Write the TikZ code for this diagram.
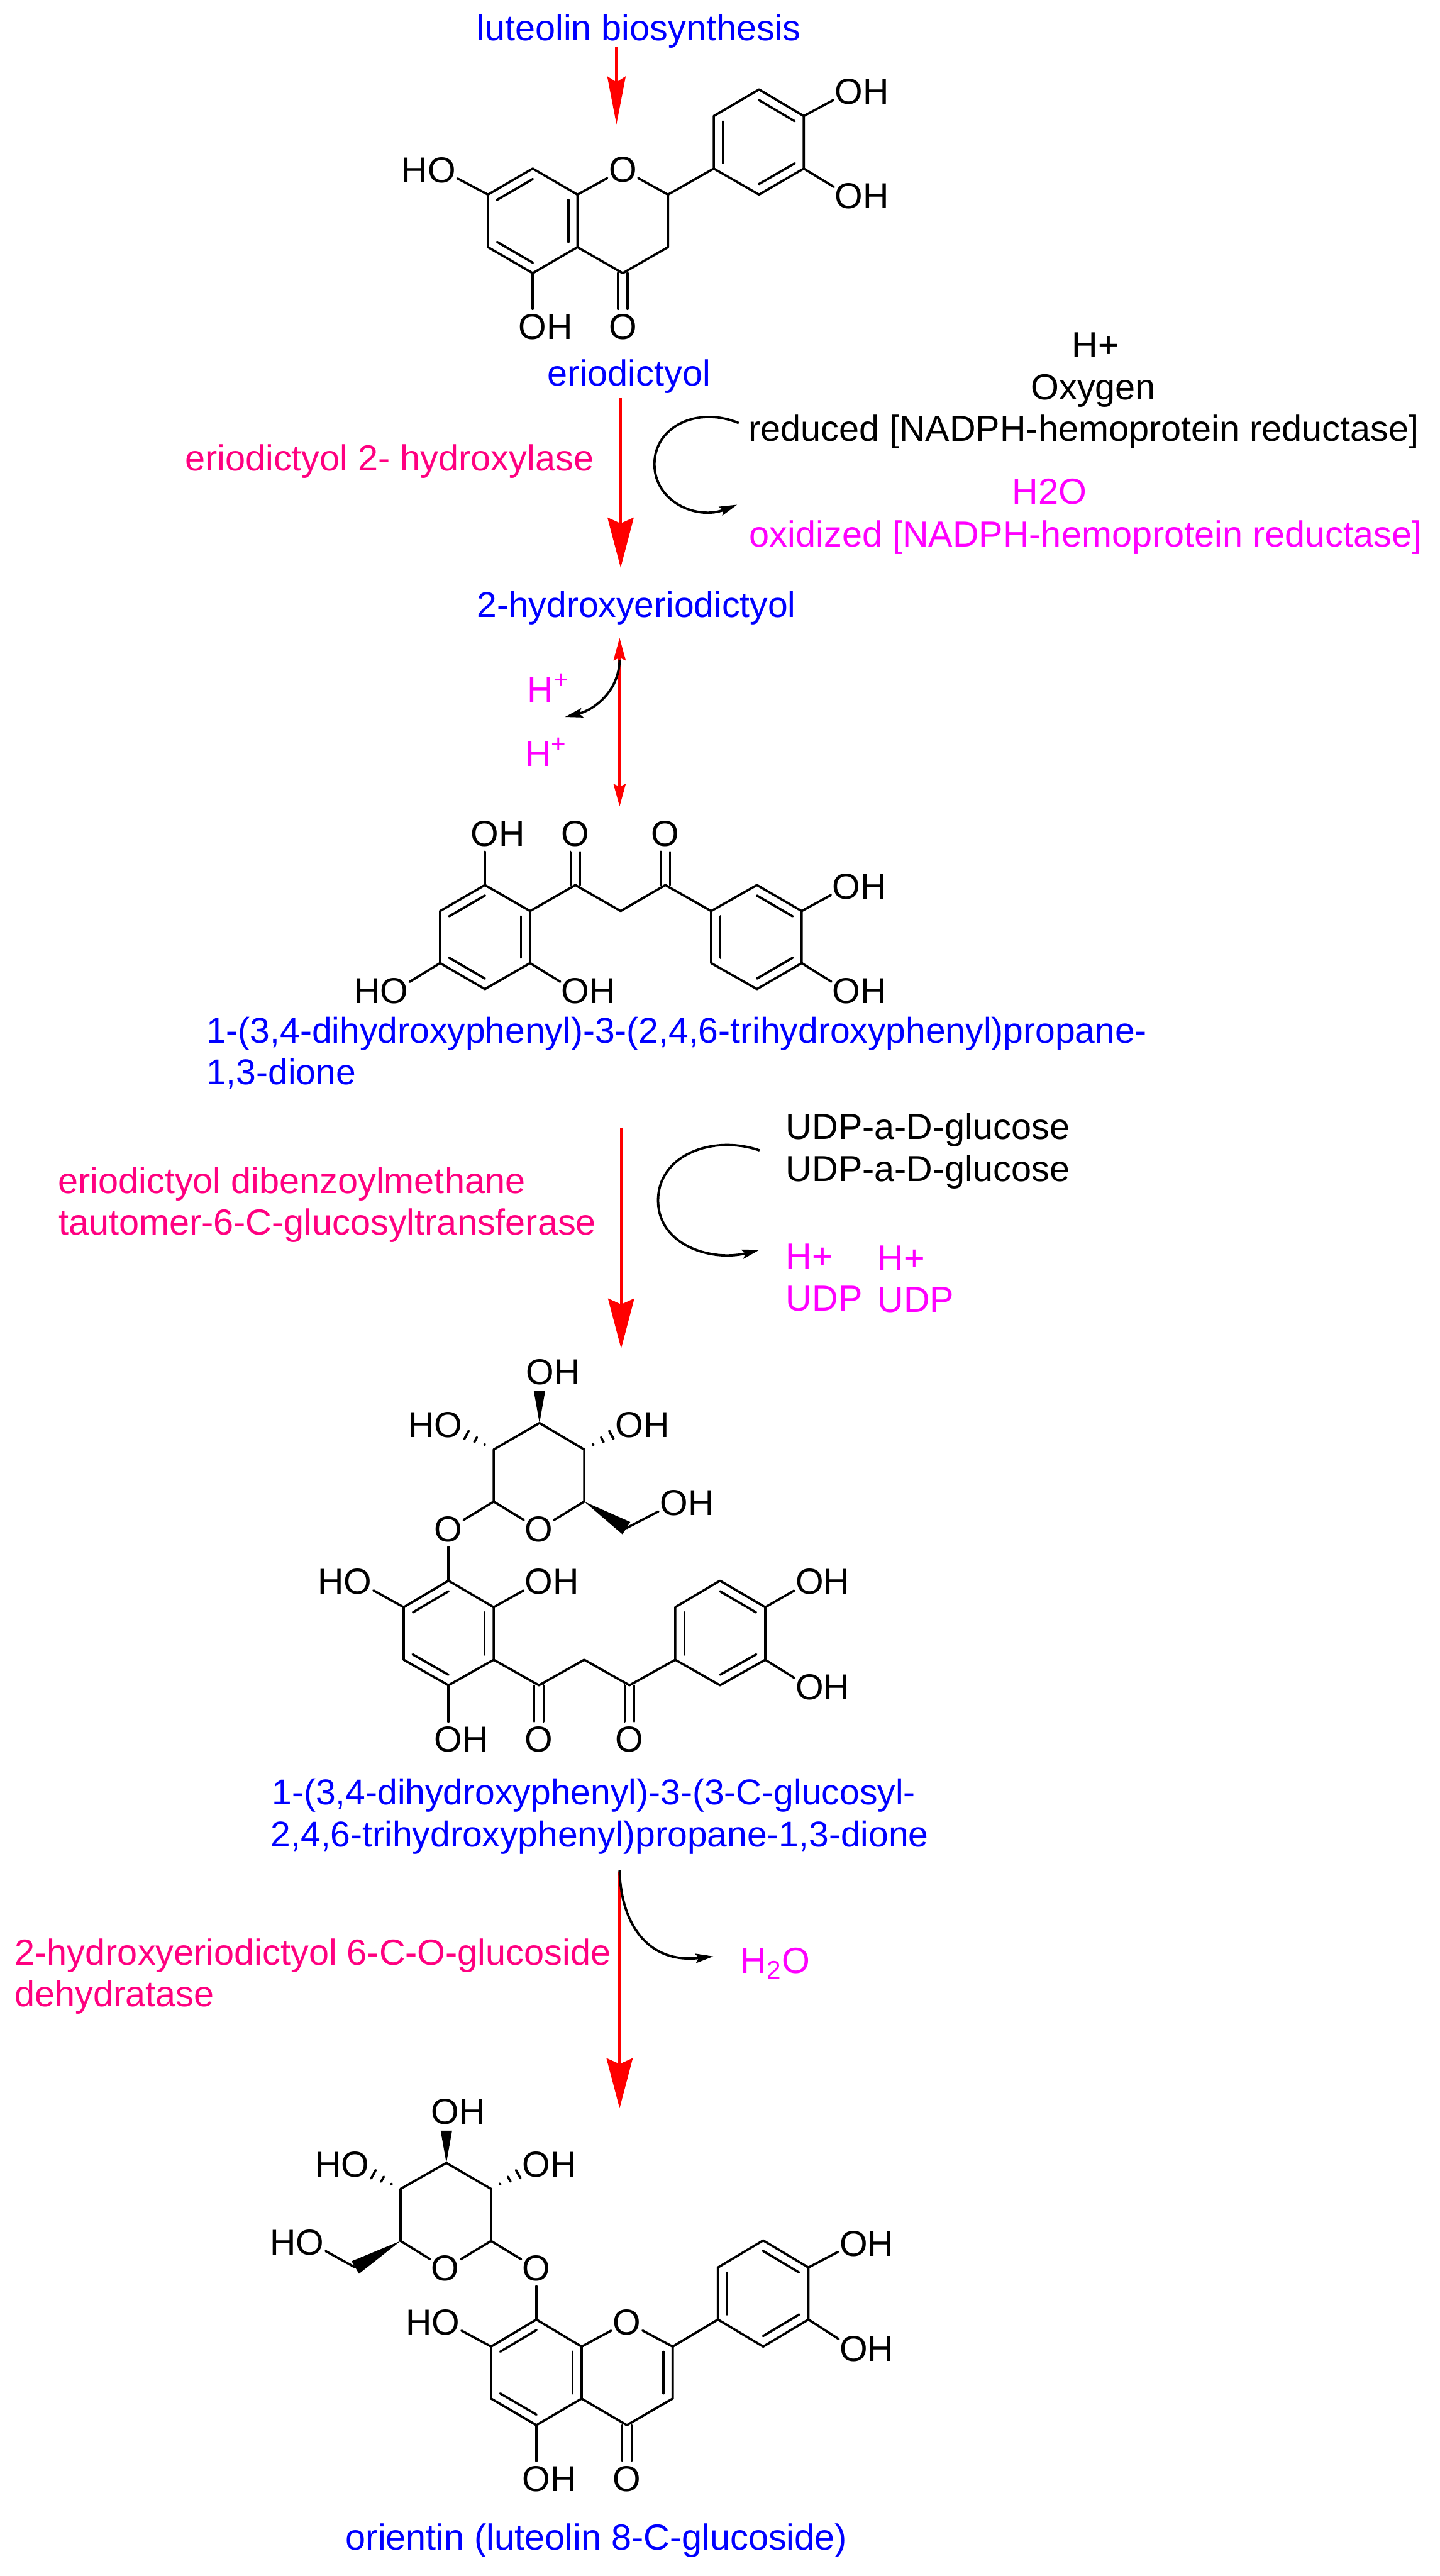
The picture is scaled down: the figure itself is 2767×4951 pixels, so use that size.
\documentclass[tikz,border=0pt]{standalone}
\usepackage{fontspec}
\setmainfont{Liberation Sans}
\usetikzlibrary{calc}
\usetikzlibrary{arrows.meta}
\definecolor{metab}{HTML}{0000FF}
\definecolor{enzyme}{HTML}{FF0080}
\definecolor{product}{HTML}{FF00FF}
\tikzset{
	atom/.style = {circle, inner sep=0pt, outer sep=-0.6pt, minimum size=0.7cm, font=\fontsize{19.7}{24}\selectfont},
	bond/.style = {line width=1.25pt, line cap=round, line join=round},
	txt/.style = {anchor=base west, inner sep=0pt, font=\fontsize{19.8}{24}\selectfont},
	longname/.style = {txt, metab, font=\fontsize{19.6}{24}\selectfont},
	mainrxn/.style = {red, line width=1.5pt, -{Stealth[length=0.96cm,width=0.5cm,inset=0.11cm]}},
	toprxn/.style = {red, line width=1.4pt, -{Stealth[length=0.92cm,width=0.35cm,inset=0.11cm]}},
	eqrxn/.style = {red, line width=1.3pt, {Stealth[length=0.43cm,width=0.23cm,inset=0.05cm]}-{Stealth[length=0.43cm,width=0.23cm,inset=0.05cm]}},
	siderxn/.style = {black, line width=1.3pt, -{Stealth[length=0.34cm,width=0.18cm,inset=0.06cm]}}
}
% O with its H hanging out, so that bonds aim at the O
\newcommand{\OHl}{O\rlap{H}}
\newcommand{\HOl}{\llap{H}O}
% inner line of a double bond, on the left of a -> b
\newcommand{\dbl}[2]{\draw[bond] ($(#1)!.1!(#2)!.175cm!90:(#2)$) -- ($(#2)!.1!(#1)!.175cm!-90:(#1)$);}
% C=O, always vertical
\newcommand{\cdbl}[2]{
	\draw[bond, transform canvas={xshift=-0.09cm}] (#1) -- (#2);
	\draw[bond, transform canvas={xshift=0.09cm}] (#1) -- (#2);
}
\newcommand{\wdg}[3]{\fill (#1) -- ($(#2)!#3!90:(#1)$) -- ($(#2)!#3!-90:(#1)$) -- cycle;}
\newcommand{\hsh}[2]{
	\draw[bond] ($(#1)!.2!(#2)!.01cm!90:(#2)$) -- ($(#1)!.2!(#2)!.01cm!-90:(#2)$);
	\draw[bond] ($(#1)!.4!(#2)!.055cm!90:(#2)$) -- ($(#1)!.4!(#2)!.055cm!-90:(#2)$);
	\draw[bond] ($(#1)!.6!(#2)!.09cm!90:(#2)$) -- ($(#1)!.6!(#2)!.09cm!-90:(#2)$);
}

\begin{document}
\begin{tikzpicture}[x=0.01cm,y=-0.01cm]
	\useasboundingbox (0,0) rectangle (2767,4951);

	% eriodictyol
	\coordinate (a1) at (1024,324);
	\coordinate (a2) at (938,374);
	\coordinate (a3) at (938,475);
	\coordinate (a4) at (1024,525);
	\coordinate (a5) at (1110,475);
	\coordinate (a6) at (1110,374);
	\coordinate (a7) at (1284,374);
	\coordinate (a8) at (1284,475);
	\coordinate (a9) at (1197,525);
	\coordinate (a10) at (1459,172);
	\coordinate (a11) at (1372,223);
	\coordinate (a12) at (1372,324);
	\coordinate (a13) at (1459,374);
	\coordinate (a14) at (1545,324);
	\coordinate (a15) at (1545,223);
	\node[atom] (aO) at (1197,326) {O};
	\node[atom] (aHO7) at (849,327) {\HOl};
	\node[atom] (aOH5) at (1024,628) {\OHl};
	\node[atom] (aO4) at (1197,628) {O};
	\node[atom] (aOH3) at (1632,176) {\OHl};
	\node[atom] (aOH4) at (1632,377) {\OHl};
	\draw[bond] (a1) -- (a2) -- (a3) -- (a4) -- (a5) -- (a6) -- (a1);
	\draw[bond] (a6) -- (aO) -- (a7) -- (a8) -- (a9) -- (a5);
	\draw[bond] (a7) -- (a12) -- (a11) -- (a10) -- (a15) -- (a14) -- (a13) -- (a12);
	\draw[bond] (a2) -- (aHO7);
	\draw[bond] (a4) -- (aOH5);
	\draw[bond] (a15) -- (aOH3);
	\draw[bond] (a14) -- (aOH4);
	\cdbl{a9}{aO4}
	\dbl{a1}{a2} \dbl{a3}{a4} \dbl{a5}{a6}
	\dbl{a11}{a12} \dbl{a13}{a14} \dbl{a15}{a10}

	% dibenzoylmethane
	\coordinate (b1) at (932,1701);
	\coordinate (b2) at (846,1751);
	\coordinate (b3) at (846,1851);
	\coordinate (b4) at (932,1901);
	\coordinate (b5) at (1019,1851);
	\coordinate (b6) at (1019,1751);
	\coordinate (b7) at (1106,1701);
	\coordinate (b8) at (1193,1751);
	\coordinate (b9) at (1279,1701);
	\coordinate (c1) at (1455,1701);
	\coordinate (c2) at (1367,1751);
	\coordinate (c3) at (1367,1851);
	\coordinate (c4) at (1455,1901);
	\coordinate (c5) at (1541,1851);
	\coordinate (c6) at (1541,1751);
	\node[atom] (bOH1) at (932,1603) {\OHl};
	\node[atom] (bO7) at (1106,1603) {O};
	\node[atom] (bO9) at (1279,1603) {O};
	\node[atom] (bHO3) at (758,1905) {\HOl};
	\node[atom] (bOH5) at (1106,1905) {\OHl};
	\node[atom] (cOH6) at (1627,1704) {\OHl};
	\node[atom] (cOH5) at (1627,1905) {\OHl};
	\draw[bond] (b1) -- (b2) -- (b3) -- (b4) -- (b5) -- (b6) -- (b1);
	\draw[bond] (b6) -- (b7) -- (b8) -- (b9) -- (c2);
	\draw[bond] (c1) -- (c2) -- (c3) -- (c4) -- (c5) -- (c6) -- (c1);
	\draw[bond] (b1) -- (bOH1);
	\draw[bond] (b3) -- (bHO3);
	\draw[bond] (b5) -- (bOH5);
	\draw[bond] (c6) -- (cOH6);
	\draw[bond] (c5) -- (cOH5);
	\cdbl{b7}{bO7}
	\cdbl{b9}{bO9}
	\dbl{b1}{b2} \dbl{b3}{b4} \dbl{b5}{b6}
	\dbl{c6}{c1} \dbl{c2}{c3} \dbl{c4}{c5}

	% glucosyl dibenzoylmethane
	\coordinate (d1) at (1037,2735);
	\coordinate (d2) at (949,2786);
	\coordinate (d3) at (949,2886);
	\coordinate (d4) at (1123,2886);
	\coordinate (d5) at (1123,2786);
	\coordinate (d6) at (1204,2937);
	\coordinate (d7) at (1037,2673);
	\node[atom] (dO) at (1036,2939) {O};
	\node[atom] (dOH1) at (1038,2637) {\OHl};
	\node[atom] (dHO2) at (862,2739) {\HOl};
	\node[atom] (dOH5) at (1210,2739) {\OHl};
	\node[atom] (dOH6) at (1296,2889) {\OHl};
	\node[atom] (dO3) at (862,2939) {O};
	\draw[bond] (d1) -- (d2) -- (d3) -- (dO) -- (d4) -- (d5) -- (d1);
	\draw[bond] (d3) -- (dO3);
	\draw[bond] (d6) -- (dOH6);
	\wdg{d1}{d7}{.11cm}
	\wdg{d4}{d6}{.14cm}
	\hsh{d2}{dHO2}
	\hsh{d5}{dOH5}
	\coordinate (f1) at (862,3038);
	\coordinate (f2) at (776,3089);
	\coordinate (f3) at (776,3190);
	\coordinate (f4) at (862,3239);
	\coordinate (f5) at (949,3190);
	\coordinate (f6) at (949,3089);
	\coordinate (f7) at (1036,3239);
	\coordinate (f8) at (1123,3190);
	\coordinate (f9) at (1210,3239);
	\coordinate (g1) at (1384,3038);
	\coordinate (g2) at (1298,3089);
	\coordinate (g3) at (1298,3190);
	\coordinate (g4) at (1384,3239);
	\coordinate (g5) at (1471,3190);
	\coordinate (g6) at (1471,3089);
	\node[atom] (fOH6) at (1036,3040) {\OHl};
	\node[atom] (fHO2) at (688,3040) {\HOl};
	\node[atom] (fOH4) at (862,3343) {\OHl};
	\node[atom] (fO7) at (1036,3343) {O};
	\node[atom] (fO9) at (1210,3343) {O};
	\node[atom] (gOH6) at (1556,3040) {\OHl};
	\node[atom] (gOH5) at (1556,3243) {\OHl};
	\draw[bond] (dO3) -- (f1);
	\draw[bond] (f1) -- (f2) -- (f3) -- (f4) -- (f5) -- (f6) -- (f1);
	\draw[bond] (f5) -- (f7) -- (f8) -- (f9) -- (g3);
	\draw[bond] (g1) -- (g2) -- (g3) -- (g4) -- (g5) -- (g6) -- (g1);
	\draw[bond] (f6) -- (fOH6);
	\draw[bond] (f2) -- (fHO2);
	\draw[bond] (f4) -- (fOH4);
	\draw[bond] (g6) -- (gOH6);
	\draw[bond] (g5) -- (gOH5);
	\cdbl{f7}{fO7}
	\cdbl{f9}{fO9}
	\dbl{f1}{f2} \dbl{f3}{f4} \dbl{f5}{f6}
	\dbl{g2}{g3} \dbl{g4}{g5} \dbl{g6}{g1}

	% orientin
	\coordinate (h1) at (858,4157);
	\coordinate (h2) at (770,4207);
	\coordinate (h3) at (770,4307);
	\coordinate (h4) at (944,4307);
	\coordinate (h5) at (944,4207);
	\coordinate (h6) at (683,4358);
	\coordinate (h7) at (858,4095);
	\node[atom] (hO) at (856,4360) {O};
	\node[atom] (hOH1) at (856,4059) {\OHl};
	\node[atom] (hHO2) at (683,4160) {\HOl};
	\node[atom] (hOH5) at (1031,4160) {\OHl};
	\node[atom] (hHO6) at (596,4310) {\HOl};
	\node[atom] (hO4) at (1031,4360) {O};
	\draw[bond] (h1) -- (h2) -- (h3) -- (hO) -- (h4) -- (h5) -- (h1);
	\draw[bond] (h4) -- (hO4);
	\draw[bond] (h6) -- (hHO6);
	\wdg{h1}{h7}{.11cm}
	\wdg{h3}{h6}{.14cm}
	\hsh{h2}{hHO2}
	\hsh{h5}{hOH5}
	\coordinate (j1) at (1031,4458);
	\coordinate (j2) at (944,4510);
	\coordinate (j3) at (944,4610);
	\coordinate (j4) at (1031,4661);
	\coordinate (j5) at (1118,4610);
	\coordinate (j6) at (1118,4510);
	\coordinate (n1) at (1293,4510);
	\coordinate (n2) at (1293,4610);
	\coordinate (n3) at (1205,4661);
	\coordinate (p1) at (1467,4306);
	\coordinate (p2) at (1380,4358);
	\coordinate (p3) at (1380,4458);
	\coordinate (p4) at (1467,4510);
	\coordinate (p5) at (1554,4458);
	\coordinate (p6) at (1554,4358);
	\node[atom] (nO) at (1205,4463) {O};
	\node[atom] (jHO2) at (857,4463) {\HOl};
	\node[atom] (jOH4) at (1031,4764) {\OHl};
	\node[atom] (nO3) at (1205,4764) {O};
	\node[atom] (pOH6) at (1641,4312) {\OHl};
	\node[atom] (pOH5) at (1641,4514) {\OHl};
	\draw[bond] (hO4) -- (j1);
	\draw[bond] (j1) -- (j2) -- (j3) -- (j4) -- (j5) -- (j6) -- (j1);
	\draw[bond] (j6) -- (nO) -- (n1) -- (n2) -- (n3) -- (j5);
	\draw[bond] (n1) -- (p3);
	\draw[bond] (p1) -- (p2) -- (p3) -- (p4) -- (p5) -- (p6) -- (p1);
	\draw[bond] (j2) -- (jHO2);
	\draw[bond] (j4) -- (jOH4);
	\draw[bond] (p6) -- (pOH6);
	\draw[bond] (p5) -- (pOH5);
	\cdbl{n3}{nO3}
	\dbl{j1}{j2} \dbl{j3}{j4} \dbl{j5}{j6} \dbl{n2}{n1}
	\dbl{p2}{p3} \dbl{p4}{p5} \dbl{p6}{p1}

	% Names
	\node[txt, metab] (t1) at (916,78) {luteolin biosynthesis};
	\node[txt, metab] (t2) at (1052,742) {eriodictyol};
	\node[longname] (t3) at (916,1186) {2-hydroxyeriodictyol};
	\node[longname] (t4) at (396,2005) {1-(3,4-dihydroxyphenyl)-3-(2,4,6-trihydroxyphenyl)propane-};
	\node[longname] (t5) at (396,2084) {1,3-dione};
	\node[longname] (t6) at (522,3469) {1-(3,4-dihydroxyphenyl)-3-(3-C-glucosyl-};
	\node[longname] (t7) at (520,3549) {2,4,6-trihydroxyphenyl)propane-1,3-dione};
	\node[txt, metab] (t8) at (664,4901) {orientin (luteolin 8-C-glucoside)};

	% Enzymes
	\node[txt, enzyme] (e1) at (355,905) {eriodictyol 2- hydroxylase};
	\node[txt, enzyme] (e2) at (111,2293) {eriodictyol dibenzoylmethane};
	\node[txt, enzyme] (e3) at (112,2373) {tautomer-6-C-glucosyltransferase};
	\node[txt, enzyme] (e4) at (28,3777) {2-hydroxyeriodictyol 6-C-O-glucoside};
	\node[txt, enzyme] (e5) at (28,3857) {dehydratase};

	% Cofactors
	\node[txt] (s1) at (2060,687) {H+};
	\node[txt] (s2) at (1981,768) {Oxygen};
	\node[txt] (s3) at (1438,848) {reduced [NADPH-hemoprotein reductase]};
	\node[txt, product] (s4) at (1945,969) {H2O};
	\node[txt, product] (s5) at (1440,1051) {oxidized [NADPH-hemoprotein reductase]};
	\node[txt, product] (s6) at (1013,1349) {H\textsuperscript{+}};
	\node[txt, product] (s7) at (1009,1473) {H\textsuperscript{+}};
	\node[txt] (s8) at (1510,2190) {UDP-a-D-glucose};
	\node[txt] (s9) at (1510,2270) {UDP-a-D-glucose};
	\node[txt, product] (s10) at (1510,2438) {H+};
	\node[txt, product] (s11) at (1510,2519) {UDP};
	\node[txt, product] (s12) at (1686,2442) {H+};
	\node[txt, product] (s13) at (1686,2522) {UDP};
	\node[txt, product] (s14) at (1423,3792) {H\textsubscript{2}O};

	% Reaction arrows
	\coordinate (r1) at (1185,90);
	\coordinate (r2) at (1185,239);
	\coordinate (r3) at (1193,765);
	\coordinate (r4) at (1193,1091);
	\coordinate (r5) at (1191,1226);
	\coordinate (r6) at (1191,1550);
	\coordinate (r7) at (1194,2167);
	\coordinate (r8) at (1194,2592);
	\coordinate (r9) at (1191,3597);
	\coordinate (r10) at (1191,4052);
	\draw[toprxn] (r1) -- (r2);
	\draw[mainrxn] (r3) -- (r4);
	\draw[eqrxn] (r5) -- (r6);
	\draw[mainrxn] (r7) -- (r8);
	\draw[mainrxn] (r9) -- (r10);

	% Side arrows
	\coordinate (q1) at (1420,813);
	\coordinate (q2) at (1258,892);
	\coordinate (q3) at (1417,970);
	\coordinate (q4) at (1191,1268);
	\coordinate (q5) at (1086,1378);
	\coordinate (q6) at (1460,2211);
	\coordinate (q7) at (1265,2307);
	\coordinate (q8) at (1460,2402);
	\coordinate (q9) at (1191,3595);
	\coordinate (q10) at (1371,3760);
	\draw[siderxn] (q1) .. controls (1340,780) and (1258,820) .. (q2) .. controls (1258,965) and (1340,1000) .. (q3);
	\draw[siderxn] (q4) .. controls (1190,1330) and (1140,1365) .. (q5);
	\draw[siderxn] (q6) .. controls (1370,2180) and (1265,2220) .. (q7) .. controls (1265,2395) and (1370,2425) .. (q8);
	\draw[siderxn] (q9) .. controls (1193,3690) and (1240,3775) .. (q10);
\end{tikzpicture}
\end{document}
